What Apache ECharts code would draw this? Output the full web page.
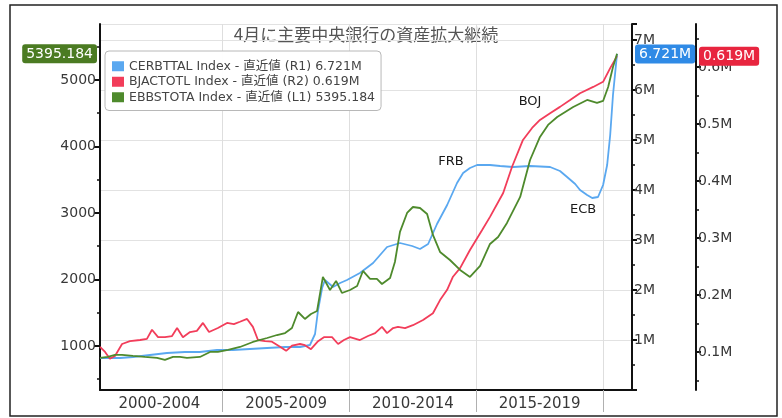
<!DOCTYPE html>
<html>
<head>
<meta charset="utf-8">
<script src="https://cdn.jsdelivr.net/npm/echarts@6/dist/echarts.min.js"></script>
<style>
  html, body {margin: 0; padding: 0; background: #fff;}
  #main {width: 782px; height: 418px;}
</style>
</head>
<body>
<div id="main"></div>
<script>
// x axis: decimal years, labels sit in the middle of each 5-year block
const periodLabels = ['2000-2004', '2005-2009', '2010-2014', '2015-2019'];
const periodCenters = [2002.5, 2007.5, 2012.5, 2017.5];
const periodBounds = [2005, 2010, 2015, 2020];

// tick labels
const leftTicks = [1000, 2000, 3000, 4000, 5000];
const leftMinorTicks = [500, 1500, 2500, 3500, 4500, 5500];
const r2Ticks = [0.1, 0.2, 0.3, 0.4, 0.5, 0.6];
const r2MinorTicks = [0.05, 0.15, 0.25, 0.35, 0.45, 0.55, 0.65];

// FRB, CERBTTAL Index, million USD (R1)
const fedYears = [2000.16, 2000.95, 2001.46, 2002.13, 2002.80, 2003.51, 2004.10, 2004.77, 2005.40, 2006.07,
  2006.75, 2007.46, 2008.05, 2008.44, 2008.64, 2008.76, 2008.92, 2009.03, 2009.35, 2009.63,
  2009.90, 2010.41, 2010.93, 2011.48, 2011.99, 2012.47, 2012.78, 2013.10, 2013.45, 2013.85,
  2014.24, 2014.48, 2014.75, 2015.03, 2015.54, 2015.94, 2016.45, 2017.12, 2017.91, 2018.30,
  2018.58, 2018.90, 2019.09, 2019.37, 2019.57, 2019.80, 2020.00, 2020.16, 2020.28, 2020.39, 2020.55];
const fedValues = [0.64, 0.64, 0.66, 0.70, 0.74, 0.76, 0.76, 0.80, 0.80, 0.82,
  0.84, 0.86, 0.86, 0.90, 1.12, 1.60, 2.04, 2.20, 2.06, 2.14,
  2.20, 2.34, 2.54, 2.86, 2.94, 2.88, 2.82, 2.92, 3.32, 3.70,
  4.14, 4.34, 4.44, 4.50, 4.50, 4.48, 4.46, 4.48, 4.46, 4.38,
  4.26, 4.12, 4.00, 3.90, 3.84, 3.86, 4.10, 4.50, 5.10, 5.90, 6.721];

// BOJ, BJACTOTL Index, million (R2)
const bojYears = [2000.16, 2000.36, 2000.55, 2000.75, 2001.03, 2001.34, 2001.74, 2002.01, 2002.21, 2002.45,
  2002.72, 2003.00, 2003.20, 2003.43, 2003.71, 2003.98, 2004.22, 2004.46, 2004.81, 2005.17,
  2005.44, 2005.68, 2005.96, 2006.19, 2006.39, 2006.67, 2006.94, 2007.26, 2007.50, 2007.73,
  2008.05, 2008.24, 2008.48, 2008.76, 2008.99, 2009.31, 2009.55, 2009.78, 2010.02, 2010.41,
  2010.73, 2011.01, 2011.28, 2011.48, 2011.72, 2011.91, 2012.19, 2012.50, 2012.90, 2013.29,
  2013.57, 2013.85, 2014.08, 2014.36, 2014.75, 2015.23, 2015.54, 2016.06, 2016.41, 2016.84,
  2017.20, 2017.51, 2017.91, 2018.30, 2018.70, 2019.09, 2019.61, 2020.00, 2020.28, 2020.55];
const bojValues = [0.109, 0.100, 0.088, 0.093, 0.114, 0.119, 0.121, 0.123, 0.139, 0.126,
  0.126, 0.128, 0.142, 0.126, 0.135, 0.137, 0.151, 0.135, 0.142, 0.151,
  0.149, 0.153, 0.158, 0.144, 0.121, 0.119, 0.118, 0.109, 0.102, 0.111,
  0.114, 0.112, 0.105, 0.119, 0.126, 0.126, 0.114, 0.121, 0.126, 0.121,
  0.128, 0.133, 0.144, 0.133, 0.142, 0.144, 0.142, 0.147, 0.156, 0.168,
  0.191, 0.209, 0.232, 0.247, 0.279, 0.314, 0.337, 0.379, 0.425, 0.472,
  0.493, 0.507, 0.519, 0.530, 0.542, 0.554, 0.565, 0.574, 0.598, 0.619];

// ECB, EBBSTOTA Index (L1)
const ecbYears = [2000.16, 2000.47, 2000.75, 2001.03, 2001.46, 2001.93, 2002.41, 2002.72, 2003.04, 2003.31,
  2003.59, 2004.10, 2004.50, 2004.81, 2005.21, 2005.68, 2006.19, 2006.75, 2007.14, 2007.46,
  2007.73, 2007.97, 2008.24, 2008.48, 2008.72, 2008.95, 2009.23, 2009.47, 2009.70, 2010.02,
  2010.30, 2010.53, 2010.81, 2011.08, 2011.28, 2011.60, 2011.79, 2011.99, 2012.27, 2012.50,
  2012.78, 2013.06, 2013.29, 2013.57, 2013.96, 2014.36, 2014.75, 2015.15, 2015.54, 2015.86,
  2016.21, 2016.73, 2017.12, 2017.51, 2017.83, 2018.19, 2018.82, 2019.37, 2019.76, 2020.00,
  2020.20, 2020.39, 2020.55];
const ecbValues = [820, 835, 865, 865, 850, 835, 820, 790, 835, 835,
  820, 835, 910, 910, 940, 985, 1060, 1120, 1165, 1195,
  1270, 1511, 1406, 1481, 1526, 2038, 1842, 1978, 1797, 1842,
  1902, 2128, 2008, 2008, 1932, 2023, 2263, 2715, 3000, 3090,
  3075, 2985, 2670, 2414, 2293, 2143, 2038, 2203, 2534, 2639,
  2850, 3241, 3797, 4143, 4324, 4444, 4594, 4700, 4655, 4685,
  4895, 5196, 5395.184];

// text notes next to the lines: [year, value on the series' own axis]
const fedNote = ['FRB', 2014.0, 4.56];
const bojNote = ['BOJ', 2017.12, 0.539];
const ecbNote = ['ECB', 2019.21, 3045];

const title = '4月に主要中央銀行の資産拡大継続';

const font = "'DejaVu Sans', 'Noto Sans CJK JP', sans-serif";
const axisText = {color: '#383838', fontSize: 14, fontFamily: font};
const black = {color: '#111', width: 2};

const last = arr => arr[arr.length - 1];
const fedLast = last(fedValues).toFixed(3) + 'M';
const bojLast = last(bojValues).toFixed(3) + 'M';
const ecbLast = last(ecbValues).toFixed(3);

const colors = {fed: '#5aa8f0', boj: '#f23d5a', ecb: '#4e8a2c'};
const badgeColors = {fed: '#2f8ae6', boj: '#e8253f', ecb: '#4b7b22'};

const badge = (value, text, color) => ({
  show: true,
  status: 'show',
  type: 'none',
  value: value,
  triggerTooltip: false,
  label: {
    show: true,
    formatter: () => text,
    backgroundColor: color,
    color: '#fff',
    fontSize: 14,
    fontFamily: font,
    padding: [3, 4, 2, 4],
    borderRadius: 3,
    margin: 3
  }
});

const note = (n) => ({
  symbol: 'rect',
  symbolSize: 1,
  itemStyle: {color: 'rgba(0,0,0,0)'},
  label: {show: true, position: 'inside', formatter: '{b}', color: '#1a1a1a', fontSize: 13, fontFamily: font},
  data: [{name: n[0], coord: [n[1], n[2]]}]
});

const pairs = (xs, ys) => xs.map((x, i) => [x, ys[i]]);

const chart = echarts.init(document.getElementById('main'));
chart.setOption({
  animation: false,
  backgroundColor: '#fff',
  grid: {left: 100, right: 150, top: 24, bottom: 28, outerBoundsMode: 'none', containLabel: false},
  legend: {
    orient: 'vertical',
    left: 105,
    top: 51,
    icon: 'rect',
    itemWidth: 12,
    itemHeight: 10,
    itemGap: 3,
    itemStyle: {borderWidth: 0},
    padding: [9, 6, 7, 7],
    backgroundColor: 'rgba(255,255,255,0.95)',
    borderColor: '#b8b8b8',
    borderWidth: 1,
    borderRadius: 4,
    textStyle: {color: '#444', fontSize: 12.5, fontFamily: font, lineHeight: 12}
  },
  xAxis: {
    type: 'value',
    min: 2000.16,
    max: 2021.14,
    axisLine: {show: true, lineStyle: black},
    axisTick: {show: true, customValues: periodBounds, length: 22, lineStyle: {color: '#b0b0b0', width: 1}},
    axisLabel: {
      customValues: periodCenters,
      formatter: v => periodLabels[periodCenters.indexOf(v)],
      margin: 7,
      ...axisText,
      fontSize: 15
    },
    splitLine: {show: true, lineStyle: {color: '#dedede', width: 1}}
  },
  yAxis: [
    {
      // L1
      type: 'value', position: 'left', min: 338, max: 5842,
      axisLine: {show: true, lineStyle: black},
      axisTick: {show: true, customValues: leftTicks, length: 6, lineStyle: black},
      axisLabel: {customValues: leftTicks, formatter: v => String(v), margin: 4, ...axisText},
      splitLine: {show: false},
      axisPointer: badge(last(ecbValues), ecbLast, badgeColors.ecb)
    },
    {
      // R1
      type: 'value', position: 'right', min: 0, max: 7.32, interval: 1,
      axisLine: {show: true, lineStyle: black},
      axisTick: {show: true, length: 5, lineStyle: black},
      minorTick: {show: true, splitNumber: 2, length: 3, lineStyle: {color: '#111', width: 1.5}},
      axisLabel: {
        formatter: v => (Number.isInteger(v) && v > 0 ? v + 'M' : ''),
        showMaxLabel: false,
        margin: 2,
        ...axisText
      },
      splitLine: {show: true, lineStyle: {color: '#e2e2e2', width: 1}},
      axisPointer: badge(last(fedValues), fedLast, badgeColors.fed)
    },
    {
      // R2
      type: 'value', position: 'right', offset: 64, min: 0.0333, max: 0.6754,
      axisLine: {show: true, lineStyle: black},
      axisTick: {show: true, customValues: r2Ticks, length: 5, lineStyle: black},
      axisLabel: {customValues: r2Ticks, formatter: v => v.toFixed(1) + 'M', margin: 2, ...axisText},
      splitLine: {show: false},
      axisPointer: badge(last(bojValues), bojLast, badgeColors.boj)
    },
    {
      // L1 minor ticks
      type: 'value', position: 'left', min: 338, max: 5842,
      axisLine: {show: false},
      axisTick: {show: true, customValues: leftMinorTicks, length: 3, lineStyle: {color: '#111', width: 1.5}},
      axisLabel: {show: false},
      splitLine: {show: false}
    },
    {
      // R2 minor ticks
      type: 'value', position: 'right', offset: 64, min: 0.0333, max: 0.6754,
      axisLine: {show: false},
      axisTick: {show: true, customValues: r2MinorTicks, length: 3, lineStyle: {color: '#111', width: 1.5}},
      axisLabel: {show: false},
      splitLine: {show: false}
    }
  ],
  series: [
    {
      name: 'CERBTTAL Index - 直近値 (R1) ' + fedLast,
      type: 'line', yAxisIndex: 1,
      data: pairs(fedYears, fedValues),
      color: colors.fed,
      markPoint: note(fedNote)
    },
    {
      name: 'BJACTOTL Index - 直近値 (R2) ' + bojLast,
      type: 'line', yAxisIndex: 2,
      data: pairs(bojYears, bojValues),
      color: colors.boj,
      markPoint: note(bojNote)
    },
    {
      name: 'EBBSTOTA Index - 直近値 (L1) ' + ecbLast,
      type: 'line', yAxisIndex: 0,
      data: pairs(ecbYears, ecbValues),
      color: colors.ecb,
      markPoint: note(ecbNote)
    }
  ].map(s => ({
    ...s,
    showSymbol: false,
    symbol: 'none',
    lineStyle: {width: 1.8},
    itemStyle: {color: s.color}
  })),
  graphic: [
    {
      type: 'rect', silent: true,
      shape: {x: 10, y: 5, width: 767, height: 411},
      style: {fill: 'none', stroke: '#222', lineWidth: 1.5}
    },
    {
      type: 'text', silent: true, x: 366, y: 35,
      style: {text: title, align: 'center', verticalAlign: 'middle', fontSize: 17, fontFamily: "'Noto Sans CJK JP'", fill: '#555'}
    }
  ]
});
</script>
</body>
</html>
